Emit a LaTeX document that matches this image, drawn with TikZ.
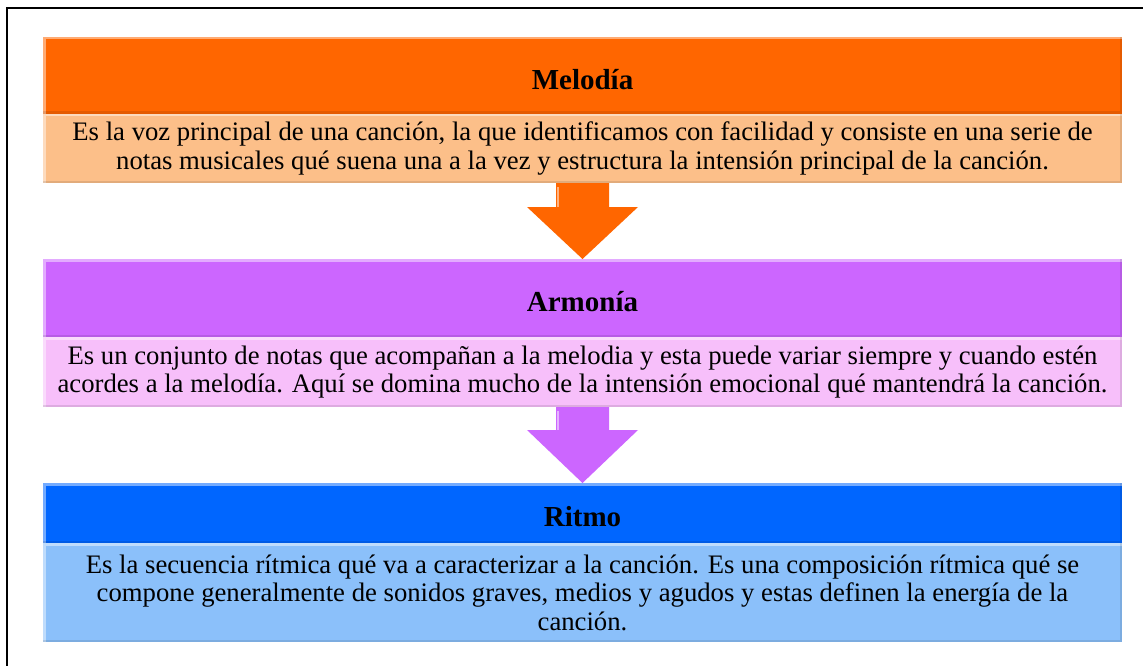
\documentclass[tikz,border=0pt]{standalone}
\usepackage{fontspec}
\setmainfont{Liberation Serif}
\usetikzlibrary{calc}
\definecolor{orangeH}{HTML}{FF6600}
\definecolor{orangeB}{HTML}{FCBF89}
\definecolor{purpleH}{HTML}{CC66FF}
\definecolor{purpleB}{HTML}{F7BFFA}
\definecolor{blueH}{HTML}{0066FF}
\definecolor{blueB}{HTML}{8BC0FA}
\newcommand\bevelbox[1]{%
  \draw[white,opacity=.45,line width=2.5pt] ($(#1.south west)+(1.25,0)$) |- ($(#1.north east)+(0,1.25)$);
  \draw[black,opacity=.10,line width=2.5pt] ($(#1.south west)+(0,-1.25)$) -| ($(#1.north east)+(-1.25,0)$);
}
\newcommand\flowarrow[4]{% from node, to node, colour, head base offset
  \fill[#3] ($(#1.south)+(-26.5,0)$) -- ($(#1.south)+(26.5,0)$) -- ($(#1.south)+(26.5,#4)$)
    -- ($(#1.south)+(55.5,#4)$) -- (#2.north) -- ($(#1.south)+(-55.5,#4)$)
    -- ($(#1.south)+(-26.5,#4)$) -- cycle;
  \draw[white,opacity=.5,line width=2pt] ($(#1.south)+(-24.5,4)$) -- ($(#1.south)+(-24.5,#4)$);
}
\begin{document}
\begin{tikzpicture}[x=1pt,y=-1pt,
  box/.style={rectangle, draw=none, minimum width=1079pt, inner sep=0pt, outer sep=0pt, anchor=north west},
  headbox/.style={box},
  titletext/.style={font=\fontsize{29}{34}\selectfont\bfseries},
  bodybox/.style={box, font=\fontsize{26.7}{28.5}\selectfont, align=center},
]
\useasboundingbox (0,0) rectangle (1143,666);
\fill[white] (0,0) rectangle (1143,666);
\draw[line width=2pt] (7,667) -- (7,8) -- (1144,8);

\node[headbox, fill=orangeH, minimum height=77pt] (mhead) at (43,37) {};
\node[titletext] (mtitle) at ($(mhead.center)+(0,4)$) {Melodía};
\node[bodybox, fill=orangeB, minimum height=69pt] (mbody) at (43,114)
  {Es la voz principal de una canción, la que identificamos con facilidad y consiste en una serie de\\
   notas musicales qué suena una a la vez y estructura la intensión principal de la canción.};

\node[headbox, fill=purpleH, minimum height=78pt] (ahead) at (43,259) {};
\node[titletext] (atitle) at ($(ahead.center)+(0,4)$) {Armonía};
\node[bodybox, fill=purpleB, minimum height=70pt] (abody) at (43,337)
  {Es un conjunto de notas que acompañan a la melodia y esta puede variar siempre y cuando estén\\
   acordes a la melodía. Aquí se domina mucho de la intensión emocional qué mantendrá la canción.};

\node[headbox, fill=blueH, minimum height=60pt] (rhead) at (43,483) {};
\node[titletext] (rtitle) at ($(rhead.center)+(0,4)$) {Ritmo};
\node[bodybox, fill=blueB, minimum height=99pt] (rbody) at (43,543)
  {Es la secuencia rítmica qué va a caracterizar a la canción. Es una composición rítmica qué se\\
   compone generalmente de sonidos graves, medios y agudos y estas definen la energía de la\\
   canción.};

\bevelbox{mhead}\bevelbox{mbody}
\bevelbox{ahead}\bevelbox{abody}
\bevelbox{rhead}\bevelbox{rbody}

\flowarrow{mbody}{ahead}{orangeH}{24}
\flowarrow{abody}{rhead}{purpleH}{23}
\end{tikzpicture}
\end{document}
